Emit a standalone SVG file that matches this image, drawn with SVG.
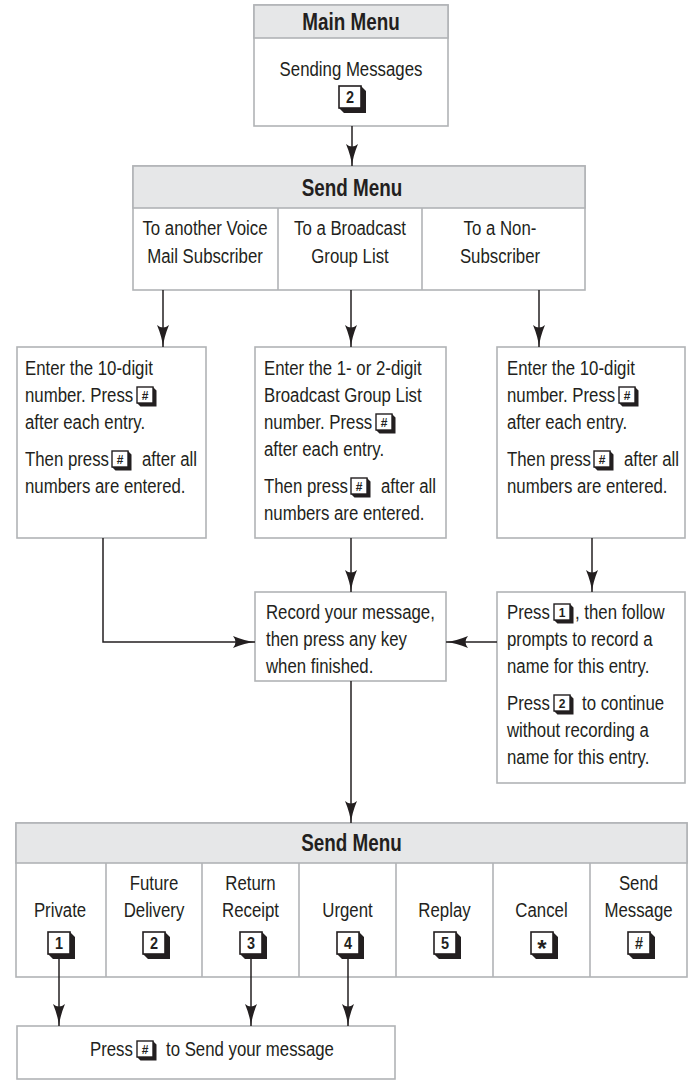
<svg xmlns="http://www.w3.org/2000/svg" xmlns:xlink="http://www.w3.org/1999/xlink" width="693" height="1081" viewBox="0 0 693 1081">
<style>
.box{fill:#fff;stroke:#b1b3b6;stroke-width:1.6}
.hdr{fill:#e6e7e8;stroke:#b1b3b6;stroke-width:1.6}
.t{font-family:'Liberation Sans',Arial,sans-serif;font-size:21px;fill:#231f20}
.c{text-anchor:middle}
.b{font-weight:bold;font-size:23px}
.k{font-family:'Liberation Sans',Arial,sans-serif;font-weight:bold;font-size:17px;text-anchor:middle;fill:#231f20}
.ks{font-family:'Liberation Sans',Arial,sans-serif;font-weight:bold;font-size:12px;text-anchor:middle;fill:#231f20}
.conn path{fill:none;stroke:#231f20;stroke-width:1.5;marker-end:url(#ah)}
</style>
<defs>
<marker id="ah" markerUnits="userSpaceOnUse" markerWidth="22" markerHeight="12" viewBox="0 0 22 12" refX="22" refY="6" orient="auto">
<path d="M0,0 Q12,5 22,6 Q12,7 0,12 Q5,6 0,0 Z" fill="#231f20"/>
</marker>
<g id="kL"><path d="M22,0 L27,5 L27,27 L5,27 L0,22 L22,22 Z" fill="#231f20"/><rect x="0" y="0" width="22" height="22" fill="#fff" stroke="#231f20" stroke-width="1.6"/></g>
<g id="kS"><path d="M16,0 L19.5,3.5 L19.5,19.5 L3.5,19.5 L0,16 L16,16 Z" fill="#231f20"/><rect x="0" y="0" width="16" height="16" fill="#fff" stroke="#231f20" stroke-width="1.4"/></g>
</defs>
<rect width="693" height="1081" fill="#fff"/>

<g id="main-menu">
<rect class="box" x="254" y="5" width="194" height="121"/>
<rect class="hdr" x="254" y="5" width="194" height="33"/>
<text class="t c b" transform="matrix(.82 0 0 1 351 30)">Main Menu</text>
<text class="t c" transform="matrix(.8 0 0 1 351 76)">Sending Messages</text>
<use xlink:href="#kL" x="339" y="86"/>
<text class="k" transform="matrix(.85 0 0 1 350 103)">2</text>
</g>

<g id="send-menu-1">
<rect class="box" x="133" y="166" width="452" height="124"/>
<rect class="hdr" x="133" y="166" width="452" height="42"/>
<line x1="278" y1="208" x2="278" y2="290" stroke="#b1b3b6" stroke-width="1.6"/>
<line x1="422" y1="208" x2="422" y2="290" stroke="#b1b3b6" stroke-width="1.6"/>
<text class="t c b" transform="matrix(.82 0 0 1 352 196)">Send Menu</text>
<text class="t c" transform="matrix(.8 0 0 1 205 235)">To another Voice</text>
<text class="t c" transform="matrix(.8 0 0 1 205 263)">Mail Subscriber</text>
<text class="t c" transform="matrix(.8 0 0 1 350 235)">To a Broadcast</text>
<text class="t c" transform="matrix(.8 0 0 1 350 263)">Group List</text>
<text class="t c" transform="matrix(.8 0 0 1 500 235)">To a Non-</text>
<text class="t c" transform="matrix(.8 0 0 1 500 263)">Subscriber</text>
</g>

<g id="subscriber-entry">
<rect class="box" x="17" y="347" width="189" height="191"/>
<text class="t" transform="matrix(.8 0 0 1 25 375)">Enter the 10-digit</text>
<text class="t" transform="matrix(.8 0 0 1 25 402)">number. Press</text>
<use xlink:href="#kS" x="137" y="387"/>
<text class="ks" x="145" y="400">#</text>
<text class="t" transform="matrix(.8 0 0 1 25 429)">after each entry.</text>
<text class="t" transform="matrix(.8 0 0 1 25 466)">Then press</text>
<use xlink:href="#kS" x="112" y="451"/>
<text class="ks" x="120" y="464">#</text>
<text class="t" transform="matrix(.8 0 0 1 142 466)">after all</text>
<text class="t" transform="matrix(.8 0 0 1 25 493)">numbers are entered.</text>
</g>

<g id="broadcast-entry">
<rect class="box" x="255" y="347" width="191" height="191"/>
<text class="t" transform="matrix(.8 0 0 1 264 375)">Enter the 1- or 2-digit</text>
<text class="t" transform="matrix(.8 0 0 1 264 402)">Broadcast Group List</text>
<text class="t" transform="matrix(.8 0 0 1 264 429)">number. Press</text>
<use xlink:href="#kS" x="376" y="414"/>
<text class="ks" x="384" y="427">#</text>
<text class="t" transform="matrix(.8 0 0 1 264 456)">after each entry.</text>
<text class="t" transform="matrix(.8 0 0 1 264 493)">Then press</text>
<use xlink:href="#kS" x="351" y="478"/>
<text class="ks" x="359" y="491">#</text>
<text class="t" transform="matrix(.8 0 0 1 381 493)">after all</text>
<text class="t" transform="matrix(.8 0 0 1 264 520)">numbers are entered.</text>
</g>

<g id="nonsubscriber-entry">
<rect class="box" x="497" y="347" width="188" height="191"/>
<text class="t" transform="matrix(.8 0 0 1 507 375)">Enter the 10-digit</text>
<text class="t" transform="matrix(.8 0 0 1 507 402)">number. Press</text>
<use xlink:href="#kS" x="619" y="387"/>
<text class="ks" x="627" y="400">#</text>
<text class="t" transform="matrix(.8 0 0 1 507 429)">after each entry.</text>
<text class="t" transform="matrix(.8 0 0 1 507 466)">Then press</text>
<use xlink:href="#kS" x="594" y="451"/>
<text class="ks" x="602" y="464">#</text>
<text class="t" transform="matrix(.8 0 0 1 624 466)">after all</text>
<text class="t" transform="matrix(.8 0 0 1 507 493)">numbers are entered.</text>
</g>

<g id="record">
<rect class="box" x="255" y="592" width="191" height="89"/>
<text class="t" transform="matrix(.8 0 0 1 266 619)">Record your message,</text>
<text class="t" transform="matrix(.8 0 0 1 266 646)">then press any key</text>
<text class="t" transform="matrix(.8 0 0 1 266 673)">when finished.</text>
</g>

<g id="record-name">
<rect class="box" x="497" y="592" width="188" height="191"/>
<text class="t" transform="matrix(.8 0 0 1 507 619)">Press</text>
<use xlink:href="#kS" x="554" y="604"/>
<text class="ks" x="562" y="617">1</text>
<text class="t" transform="matrix(.8 0 0 1 575 619)">, then follow</text>
<text class="t" transform="matrix(.8 0 0 1 507 646)">prompts to record a</text>
<text class="t" transform="matrix(.8 0 0 1 507 673)">name for this entry.</text>
<text class="t" transform="matrix(.8 0 0 1 507 710)">Press</text>
<use xlink:href="#kS" x="554" y="695"/>
<text class="ks" x="562" y="708">2</text>
<text class="t" transform="matrix(.8 0 0 1 582 710)">to continue</text>
<text class="t" transform="matrix(.8 0 0 1 507 737)">without recording a</text>
<text class="t" transform="matrix(.8 0 0 1 507 764)">name for this entry.</text>
</g>

<g id="send-menu-2">
<rect class="box" x="16" y="823" width="671" height="154"/>
<rect class="hdr" x="16" y="823" width="671" height="40"/>
<g stroke="#b1b3b6" stroke-width="1.6">
<line x1="106" y1="863" x2="106" y2="977"/>
<line x1="202" y1="863" x2="202" y2="977"/>
<line x1="299" y1="863" x2="299" y2="977"/>
<line x1="396" y1="863" x2="396" y2="977"/>
<line x1="493" y1="863" x2="493" y2="977"/>
<line x1="590" y1="863" x2="590" y2="977"/>
</g>
<text class="t c b" transform="matrix(.82 0 0 1 351.5 851)">Send Menu</text>
<text class="t c" transform="matrix(.8 0 0 1 60 917)">Private</text>
<text class="t c" transform="matrix(.8 0 0 1 154 890)">Future</text>
<text class="t c" transform="matrix(.8 0 0 1 154 917)">Delivery</text>
<text class="t c" transform="matrix(.8 0 0 1 250.5 890)">Return</text>
<text class="t c" transform="matrix(.8 0 0 1 250.5 917)">Receipt</text>
<text class="t c" transform="matrix(.8 0 0 1 347.5 917)">Urgent</text>
<text class="t c" transform="matrix(.8 0 0 1 444.5 917)">Replay</text>
<text class="t c" transform="matrix(.8 0 0 1 541.5 917)">Cancel</text>
<text class="t c" transform="matrix(.8 0 0 1 638.5 890)">Send</text>
<text class="t c" transform="matrix(.8 0 0 1 638.5 917)">Message</text>
<use xlink:href="#kL" x="48" y="932"/><text class="k" transform="matrix(.85 0 0 1 59 949)">1</text>
<use xlink:href="#kL" x="143" y="932"/><text class="k" transform="matrix(.85 0 0 1 154 949)">2</text>
<use xlink:href="#kL" x="240" y="932"/><text class="k" transform="matrix(.85 0 0 1 251 949)">3</text>
<use xlink:href="#kL" x="337" y="932"/><text class="k" transform="matrix(.85 0 0 1 348 949)">4</text>
<use xlink:href="#kL" x="434" y="932"/><text class="k" transform="matrix(.85 0 0 1 445 949)">5</text>
<use xlink:href="#kL" x="531" y="932"/><text class="k" style="font-size:24px" transform="matrix(1 0 0 1 542 957)">*</text>
<use xlink:href="#kL" x="628" y="932"/><text class="k" transform="matrix(.85 0 0 1 639 949)">#</text>
</g>

<g id="send-final">
<rect class="box" x="17" y="1026" width="378" height="53"/>
<text class="t" transform="matrix(.8 0 0 1 90 1056)">Press</text>
<use xlink:href="#kS" x="137" y="1041"/>
<text class="ks" x="145" y="1054">#</text>
<text class="t" transform="matrix(.8 0 0 1 166 1056)">to Send your message</text>
</g>

<g class="conn" id="connectors">
<path d="M352,126 V166"/>
<path d="M163,290 V347"/>
<path d="M351,290 V347"/>
<path d="M539,290 V347"/>
<path d="M351,538 V592"/>
<path d="M592,538 V592"/>
<path d="M103,538 V642 H255"/>
<path d="M497,642 H446"/>
<path d="M351,681 V823"/>
<path d="M59,959 V1026"/>
<path d="M251,959 V1026"/>
<path d="M348,959 V1026"/>
</g>
</svg>
